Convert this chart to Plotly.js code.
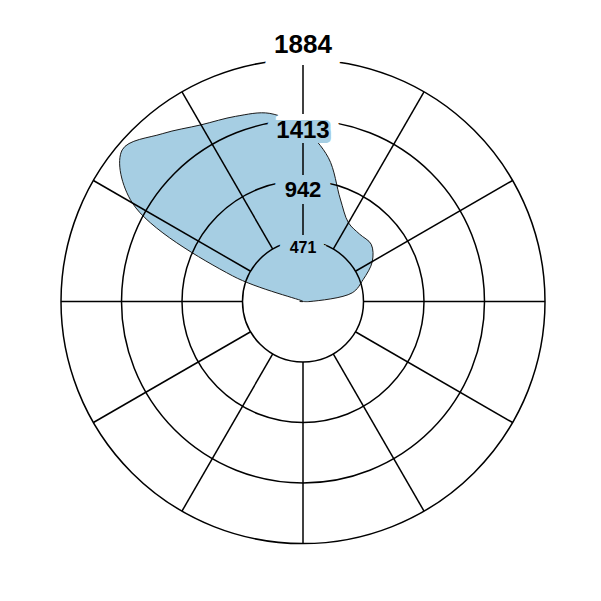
<!DOCTYPE html>
<html>
<head>
<meta charset="utf-8">
<script src="https://cdn.plot.ly/plotly-3.0.1.min.js"></script>
<style>
  html, body { margin: 0; padding: 0; background: #fff; }
  #chart { width: 601px; height: 601px; }
</style>
</head>
<body>
<div id="chart"></div>
<script>
/***********
  DATA
************/

// Angle of each reading, degrees clockwise from the top
const angles = [0, 10, 20, 30, 40, 50, 60, 70, 80, 90, 100, 110,
                120, 130, 140, 150, 160, 170, 180, 190, 200, 210, 220, 230,
                240, 250, 260, 270, 280, 290, 300, 310, 320, 330, 340, 350];

// Value read at each angle
const values = [1347, 1137, 849, 708, 685, 693, 623, 498, 389, 55, 0, 0,
                0, 0, 0, 0, 0, 0, 0, 0, 0, 0, 0, 0,
                0, 0, 0, 25, 0, 584, 1534, 1837, 1705, 1588, 1534, 1487];

// Radial ticks (rings) and their labels
const tickVals = [471, 942, 1413, 1884];
const tickLabels = ['471', '942', '1413', '1884'];

// Spokes every 30 degrees
const spokeStep = 30;

/***********
  FUNCTIONS
************/

// Build a text-shadow string that works like a halo around a label.
// pick(dx, dy) gives the colour of each shifted copy (first listed is on top).
function halo(pick, x0, x1, y0, y1) {
  let top = [], bottom = [];
  for (let dx = x0; dx <= x1; dx += 2) {
    for (let dy = y0; dy <= y1; dy += 2) {
      let c = pick(dx, dy);
      if (!c) continue;
      let s = dx + 'px ' + dy + 'px 0 ' + c.color;
      (c.top ? top : bottom).push(s);
    }
  }
  return top.concat(bottom).join(', ');
}

function labelTrace(i, size, position, shadow) {
  return {
    type: 'scatterpolar',
    subplot: 'polar2',
    r: [tickVals[i]],
    theta: [0],
    mode: 'text',
    text: [tickLabels[i]],
    textposition: position,
    textfont: {family: '"Liberation Sans", Arial, Helvetica, sans-serif', weight: 700,
               color: '#000', size: size, shadow: shadow},
    cliponaxis: false,
    hoverinfo: 'skip'
  };
}

function drawChart() {
  const fillBlue = '#a6cee3';

  // close the curve by repeating the first point
  let r = values.concat([values[0]]);
  let theta = angles.concat([angles[0]]);

  // Filled shape, on the bottom subplot (no hole)
  let shape = {
    type: 'scatterpolar',
    subplot: 'polar',
    r: r,
    theta: theta,
    mode: 'lines',
    fill: 'toself',
    fillcolor: fillBlue,
    line: {color: '#1a1a1a', width: 1, shape: 'spline', smoothing: 1},
    hoverinfo: 'skip'
  };

  let onBlue = function () { return {color: fillBlue, top: true}; };
  let onWhite = function () { return {color: '#ffffff', top: true}; };
  // 1413 sits on the edge of the shape: blue to the lower left, white above and right
  let onEdge = function (dx, dy) {
    if (dx <= 2 && dy >= -1) return {color: fillBlue, top: true};
    if (dx < -2) return null;
    return {color: '#ffffff', top: false};
  };

  let labels = [
    labelTrace(0, 16, 'bottom center', halo(onBlue, -10, 10, -6, 6)),
    labelTrace(1, 22, 'bottom center', halo(onBlue, -10, 10, -7, 7)),
    labelTrace(2, 24, 'bottom center', halo(onEdge, -10, 10, -7, 5)),
    labelTrace(3, 26, 'top center', halo(onWhite, -10, 10, -6, 12))
  ];

  let hiddenAxis = {visible: false, showgrid: false, showline: false,
                    showticklabels: false, ticks: ''};

  let layout = {
    width: 601,
    height: 601,
    margin: {l: 61, r: 56, t: 58, b: 56},
    paper_bgcolor: '#ffffff',
    showlegend: false,
    polar: {
      domain: {x: [0, 1], y: [0, 1]},
      bgcolor: '#ffffff',
      radialaxis: Object.assign({range: [0, tickVals[3]]}, hiddenAxis),
      angularaxis: Object.assign({direction: 'clockwise', rotation: 90}, hiddenAxis)
    },
    polar2: {
      domain: {x: [0, 1], y: [0, 1]},
      bgcolor: 'rgba(0,0,0,0)',
      hole: tickVals[0] / tickVals[3],
      radialaxis: {
        range: [tickVals[0], tickVals[3]],
        tickmode: 'array',
        tickvals: tickVals,
        showticklabels: false,
        ticks: '',
        showline: false,
        gridcolor: '#000',
        gridwidth: 1.5,
        layer: 'below traces'
      },
      angularaxis: {
        direction: 'clockwise',
        rotation: 90,
        tickmode: 'linear',
        tick0: 0,
        dtick: spokeStep,
        showticklabels: false,
        ticks: '',
        showline: true,
        linecolor: '#000',
        linewidth: 1.5,
        gridcolor: '#000',
        gridwidth: 1.5,
        layer: 'below traces'
      }
    }
  };

  Plotly.newPlot('chart', [shape].concat(labels), layout, {displayModeBar: false, staticPlot: true});
}

/***********
  INIT
************/
drawChart();
</script>
</body>
</html>
